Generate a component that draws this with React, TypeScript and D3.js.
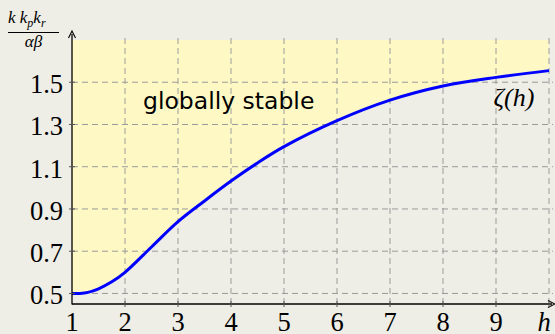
import React from "react";
import * as d3 from "d3";

// Sampled values of the stability boundary ζ(h)
const hValues = [1, 1.15, 1.3, 1.5, 1.75, 2, 2.5, 3, 3.5, 4, 4.5, 5, 6, 7, 8, 9, 10];
const zetaValues = [0.5, 0.5, 0.505, 0.522, 0.555, 0.6, 0.72, 0.84, 0.938, 1.032, 1.118, 1.195, 1.318, 1.415, 1.482, 1.523, 1.555];

const xTicks = [1, 2, 3, 4, 5, 6, 7, 8, 9];
const yTicks = [0.5, 0.7, 0.9, 1.1, 1.3, 1.5];
const xGrid = [2, 3, 4, 5, 6, 7, 8, 9, 10];

const W = 555;
const H = 334;

const serif = '"Liberation Serif", "Times New Roman", Times, "DejaVu Serif", serif';
const sans = '"DejaVu Sans", Verdana, sans-serif';

export default function App() {
  const x = d3.scaleLinear().domain([1, 10]).range([72, 549]);
  const y = d3.scaleLinear().domain([0.45, 1.7]).range([304, 40]);

  const pts = hValues.map((h, i) => ({ h, z: zetaValues[i] }));

  const line = d3
    .line<{ h: number; z: number }>()
    .x((d) => x(d.h))
    .y((d) => y(d.z))
    .curve(d3.curveCatmullRom.alpha(0.5));

  const area = d3
    .area<{ h: number; z: number }>()
    .x((d) => x(d.h))
    .y0(y(1.7))
    .y1((d) => y(d.z))
    .curve(d3.curveCatmullRom.alpha(0.5));

  const gridColor = "#9a9a9a";
  const serifStyle = { fontFamily: serif };

  return (
    <svg
      width={W}
      height={H}
      style={{ position: "absolute", left: 0, top: 0, background: "#eeeee7" }}
    >
      <rect x={0} y={0} width={W} height={H} fill="#eeeee7" />
      {/* stable region above the boundary */}
      <path d={area(pts) ?? ""} fill="#fef9c4" />

      {/* grid */}
      {yTicks.map((t) => (
        <line
          key={"gy" + t}
          x1={x(1)}
          x2={553}
          y1={y(t)}
          y2={y(t)}
          stroke={gridColor}
          strokeWidth={1}
          strokeDasharray="6 4"
        />
      ))}
      {xGrid.map((t) => (
        <line
          key={"gx" + t}
          x1={x(t)}
          x2={x(t)}
          y1={y(0.45)}
          y2={37}
          stroke={gridColor}
          strokeWidth={1}
          strokeDasharray="6 4"
        />
      ))}

      {/* boundary curve */}
      <path d={line(pts) ?? ""} fill="none" stroke="#0000ff" strokeWidth={3} strokeLinejoin="round" />

      {/* axes */}
      <line x1={x(1)} x2={x(1)} y1={y(0.45) + 0.5} y2={34} stroke="#000" strokeWidth={1.3} />
      <path d={`M${x(1) - 3.5},${38} L${x(1)},${31} L${x(1) + 3.5},${38}`} fill="none" stroke="#000" strokeWidth={1.1} />
      <line x1={x(1)} x2={552} y1={y(0.45)} y2={y(0.45)} stroke="#000" strokeWidth={1.3} />
      <path d={`M${548},${y(0.45) - 3.5} L${555},${y(0.45)} L${548},${y(0.45) + 3.5}`} fill="none" stroke="#000" strokeWidth={1.1} />

      {/* tick marks */}
      {xGrid.map((t) => (
        <line key={"tx" + t} x1={x(t)} x2={x(t)} y1={y(0.45) - 3} y2={y(0.45) + 3} stroke="#555" strokeWidth={1} />
      ))}
      {yTicks.map((t) => (
        <line key={"ty" + t} x1={x(1) - 3} x2={x(1) + 3} y1={y(t)} y2={y(t)} stroke="#555" strokeWidth={1} />
      ))}

      {/* tick labels */}
      {xTicks.map((t) => (
        <text key={"lx" + t} x={x(t)} y={331} textAnchor="middle" style={serifStyle} fontSize={26.5} fill="#000">
          {t}
        </text>
      ))}
      <text x={x(10) - 5} y={331} textAnchor="middle" style={serifStyle} fontStyle="italic" fontSize={26.5} fill="#000">
        h
      </text>
      {yTicks.map((t) => (
        <text key={"ly" + t} x={63} y={y(t) + 11} textAnchor="end" style={serifStyle} fontSize={26.5} fill="#000">
          {t.toFixed(1)}
        </text>
      ))}

      {/* y-axis quantity */}
      <text x={8} y={23} style={serifStyle} fontStyle="italic" fontSize={17} fill="#000">
        k k<tspan fontSize={12} dy={4}>p</tspan>
        <tspan dy={-4}>k</tspan>
        <tspan fontSize={12} dy={4}>r</tspan>
      </text>
      <line x1={8} x2={59} y1={32.5} y2={32.5} stroke="#000" strokeWidth={1.2} />
      <text x={33.5} y={47} textAnchor="middle" style={serifStyle} fontStyle="italic" fontSize={17} fill="#000">
        αβ
      </text>

      {/* annotations */}
      <text x={143} y={109} style={{ fontFamily: sans }} fontSize={23.5} fill="#000">
        globally stable
      </text>
      <text x={514} y={106} textAnchor="middle" style={serifStyle} fontStyle="italic" fontSize={26} fill="#000">
        ζ(h)
      </text>
    </svg>
  );
}
